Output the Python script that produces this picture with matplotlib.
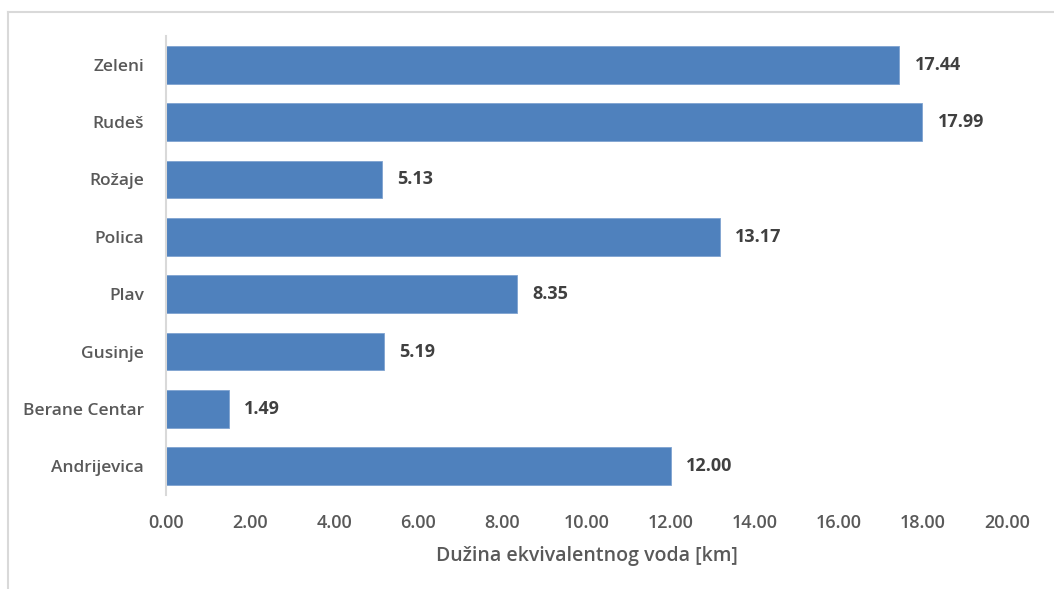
import matplotlib
matplotlib.use("Agg")
import matplotlib.pyplot as plt
from matplotlib.lines import Line2D

categories = ["Andrijevica", "Berane Centar", "Gusinje", "Plav", "Polica", "Rožaje", "Rudeš", "Zeleni"]
values = [12.00, 1.49, 5.19, 8.35, 13.17, 5.13, 17.99, 17.44]
xticks = [0, 2, 4, 6, 8, 10, 12, 14, 16, 18, 20]
xlabel = "Dužina ekvivalentnog voda [km]"

plt.rcParams['font.family'] = ['Open Sans', 'DejaVu Sans']

fig = plt.figure(figsize=(10.54, 5.89), dpi=100)
ax = fig.add_axes([166/1054, 1 - 495/589, (1007-166)/1054, (495-36)/589])

y = range(len(categories))
ax.barh(list(y), values, height=0.66, color="#4F81BD", edgecolor="#7FA3D0", linewidth=0.6, zorder=2)
for yi, v in zip(y, values):
    ax.annotate(f"{v:.2f}", (v, yi), xytext=(11, 0), textcoords="offset points",
                va="center", ha="left", fontsize=13, fontweight="bold", color="#404040")

ax.set_xlim(0, 20)
ax.set_ylim(-0.5, len(categories) - 0.5)
ax.set_xticks(xticks)
ax.set_xticklabels([f"{t:.2f}" for t in xticks])
ax.set_yticks(list(y))
ax.set_yticklabels(categories)
ax.tick_params(axis="both", length=0, labelcolor="#595959")
ax.tick_params(axis="x", pad=14, labelsize=13)
ax.tick_params(axis="y", pad=16, labelsize=12.5)
for lab in ax.get_xticklabels() + ax.get_yticklabels():
    lab.set_fontweight("semibold")
for s in ["top", "right", "bottom"]:
    ax.spines[s].set_visible(False)
ax.spines["left"].set_color("#D9D9D9")
ax.spines["left"].set_linewidth(1.5)
ax.set_xlabel(xlabel, fontsize=14, fontweight="semibold", color="#595959", labelpad=10)

# outer chart border (top and left visible)
fig.add_artist(Line2D([8/1054, 1], [1 - 12/589, 1 - 12/589], transform=fig.transFigure, color="#D9D9D9", lw=1.5))
fig.add_artist(Line2D([8/1054, 8/1054], [0, 1 - 12/589], transform=fig.transFigure, color="#D9D9D9", lw=1.5))

fig.savefig("out.png", dpi=100)
